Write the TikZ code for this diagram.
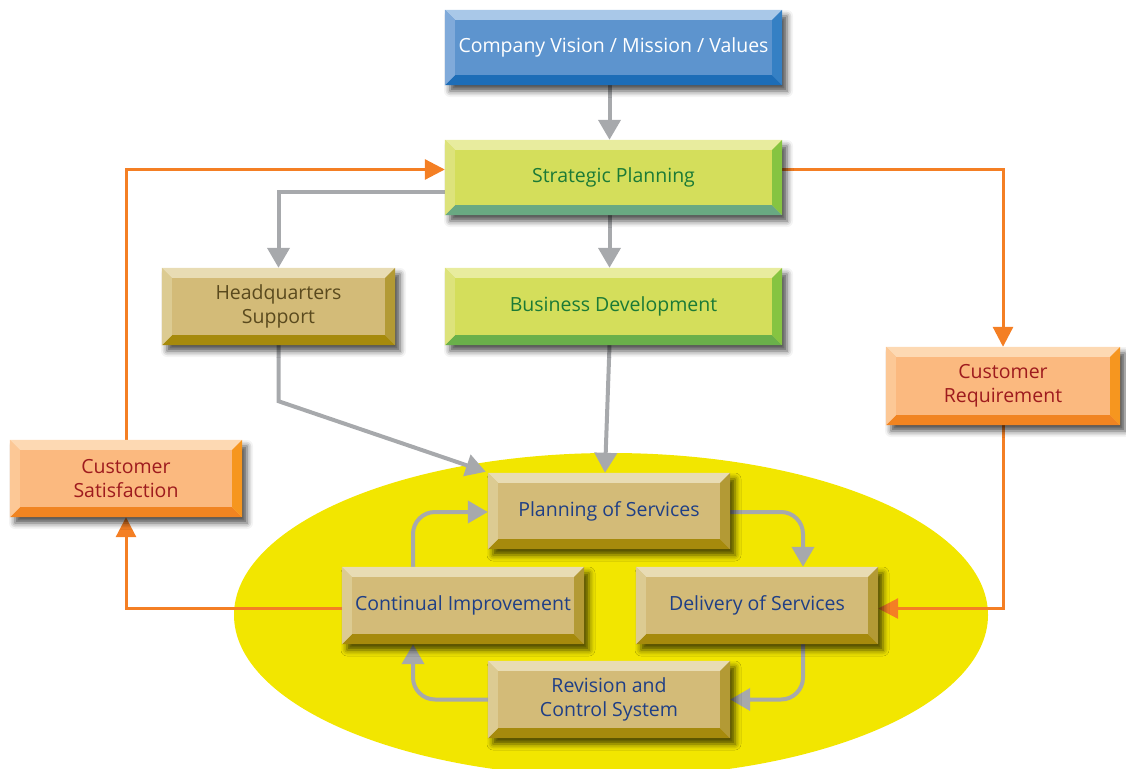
\documentclass[tikz,border=0pt]{standalone}
\usepackage{fontspec}
\setmainfont{Open Sans}
\usetikzlibrary{arrows.meta,shadows.blur}
\pgfdeclarelayer{bg}
\pgfsetlayers{bg,main}
% colours
\definecolor{bluF}{HTML}{5D94CE}\definecolor{bluT}{HTML}{A9C8E8}\definecolor{bluL}{HTML}{80AADA}
\definecolor{bluR}{HTML}{3580C4}\definecolor{bluB}{HTML}{1D6DB7}
\definecolor{grnF}{HTML}{D4DE5B}\definecolor{grnT}{HTML}{E8EC9E}\definecolor{grnL}{HTML}{DDE37B}
\definecolor{grnR}{HTML}{86C441}\definecolor{grnB}{HTML}{69A982}
\definecolor{gr2F}{HTML}{D4DE5B}\definecolor{gr2T}{HTML}{E8EC9E}\definecolor{gr2L}{HTML}{DDE37B}
\definecolor{gr2R}{HTML}{86C441}\definecolor{gr2B}{HTML}{6AB04A}
\definecolor{tanF}{HTML}{D3BB78}\definecolor{tanT}{HTML}{E8DCB4}\definecolor{tanL}{HTML}{DCCB92}
\definecolor{tanR}{HTML}{B39A35}\definecolor{tanB}{HTML}{A68A0C}
\definecolor{orgF}{HTML}{FBB97F}\definecolor{orgT}{HTML}{FDD9B3}\definecolor{orgL}{HTML}{FCC896}
\definecolor{orgR}{HTML}{F6961F}\definecolor{orgB}{HTML}{F18421}
\definecolor{txtGreen}{HTML}{1B7A36}\definecolor{txtOlive}{HTML}{5A4A1E}
\definecolor{txtNavy}{HTML}{1F3F86}\definecolor{txtRed}{HTML}{9E1B1E}
\definecolor{arrGray}{HTML}{A7A9AC}\definecolor{arrOrange}{HTML}{F47F24}
\definecolor{ellYellow}{HTML}{F2E600}
\newcommand\bw{10}
\newcommand\bevel[2]{%
 \fill[#2T] (#1.north west) -- (#1.north east) -- ([shift={(-\bw,\bw)}]#1.north east) -- ([shift={(\bw,\bw)}]#1.north west) -- cycle;
 \fill[#2B] (#1.south west) -- (#1.south east) -- ([shift={(-\bw,-\bw)}]#1.south east) -- ([shift={(\bw,-\bw)}]#1.south west) -- cycle;
 \fill[#2L] (#1.north west) -- ([shift={(\bw,\bw)}]#1.north west) -- ([shift={(\bw,-\bw)}]#1.south west) -- (#1.south west) -- cycle;
 \fill[#2R] (#1.north east) -- ([shift={(-\bw,\bw)}]#1.north east) -- ([shift={(-\bw,-\bw)}]#1.south east) -- (#1.south east) -- cycle;
}
\tikzset{
 bbox/.style={rectangle, inner sep=0pt, align=center,
   font=\fontsize{19.5}{24}\selectfont,
   blur shadow={shadow xshift=5pt, shadow yshift=-6pt, shadow blur radius=6pt, shadow opacity=70}},
 garrow/.style={draw=arrGray, line width=4pt, -{Triangle[width=22pt,length=20pt]}},
 oarrow/.style={draw=arrOrange, line width=3pt, -{Triangle[width=20pt,length=20pt]}},
}
\begin{document}
\begin{tikzpicture}[x=1pt,y=-1pt]
\useasboundingbox (0,0) rectangle (1126,768);
% boxes
\node[bbox, fill=bluF, text=white, minimum width=337pt, minimum height=75pt] (vision) at (613.5,47.5) {Company Vision / Mission / Values};
\node[bbox, fill=grnF, text=txtGreen, minimum width=337pt, minimum height=75pt] (strat) at (613.5,177.5) {Strategic Planning};
\node[bbox, fill=tanF, text=txtOlive, minimum width=233pt, minimum height=77pt] (hq) at (278.5,306.5) {Headquarters\\Support};
\node[bbox, fill=gr2F, text=txtGreen, minimum width=337pt, minimum height=77pt] (busdev) at (613.5,306.5) {Business Development};
\node[bbox, fill=orgF, text=txtRed, minimum width=234pt, minimum height=78pt] (custreq) at (1003,386) {Customer\\Requirement};
\node[bbox, fill=orgF, text=txtRed, minimum width=232pt, minimum height=77pt] (custsat) at (126,478.5) {Customer\\Satisfaction};
\node[bbox, fill=tanF, text=txtNavy, minimum width=242pt, minimum height=76pt] (plan) at (609,511) {Planning of Services};
\node[bbox, fill=tanF, text=txtNavy, minimum width=242pt, minimum height=77pt] (contin) at (463,605.5) {Continual Improvement};
\node[bbox, fill=tanF, text=txtNavy, minimum width=242pt, minimum height=77pt] (deliv) at (757,605.5) {Delivery of Services};
\node[bbox, fill=tanF, text=txtNavy, minimum width=242pt, minimum height=77pt] (revis) at (609,699.5) {Revision and\\Control System};
\bevel{vision}{blu}
\bevel{strat}{grn}
\bevel{hq}{tan}
\bevel{busdev}{gr2}
\bevel{custreq}{org}
\bevel{custsat}{org}
\bevel{plan}{tan}
\bevel{contin}{tan}
\bevel{deliv}{tan}
\bevel{revis}{tan}
\begin{pgfonlayer}{bg}
\fill[ellYellow] (611,615) ellipse [x radius=377pt, y radius=162pt];
% gray connectors
\draw[garrow] ([xshift=-4pt]vision.south) -- ([xshift=-4pt]strat.north);
\draw[garrow] ([xshift=-4pt]strat.south) -- ([xshift=-4pt]busdev.north);
\draw[garrow] ([yshift=-14pt]strat.west) -| (hq.north);
\draw[garrow] (hq.south) -- ++(0,56) -- ([shift={(-2,-1)}]plan.north west);
\draw[garrow] ([xshift=-4pt]busdev.south) -- ([xshift=-4pt]plan.north);
\draw[garrow, rounded corners=22pt] ([yshift=-1pt]plan.east) -| ([xshift=46pt]deliv.north);
\draw[garrow, rounded corners=22pt] ([xshift=46pt]deliv.south) |- (revis.east);
\draw[garrow, rounded corners=22pt] (revis.west) -| ([xshift=-50pt]contin.south);
\draw[garrow, rounded corners=22pt] ([xshift=-50pt]contin.north) |- ([yshift=-1pt]plan.west);
% orange connectors
\draw[oarrow] ([yshift=8pt]strat.east) -| (custreq.north);
\draw[oarrow] (custreq.south) |- ([yshift=-3pt]deliv.east);
\draw[oarrow] ([yshift=-2.5pt]contin.west) -| (custsat.south);
\draw[oarrow] (custsat.north) |- ([yshift=8pt]strat.west);
\end{pgfonlayer}
\end{tikzpicture}
\end{document}
